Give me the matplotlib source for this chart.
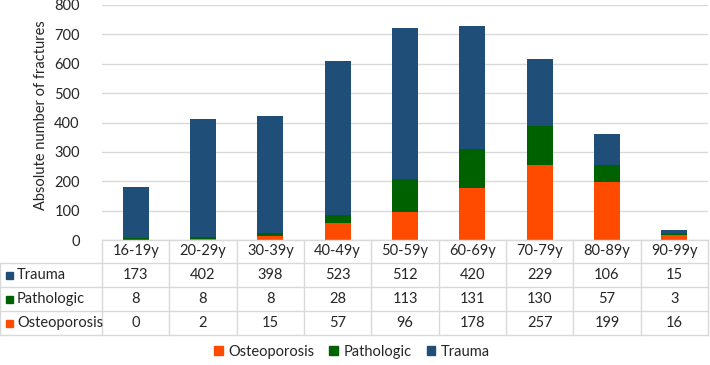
import matplotlib.pyplot as plt
from matplotlib.patches import Patch

plt.rcParams['font.family'] = ['Lato', 'DejaVu Sans']

age_groups = ["16-19y", "20-29y", "30-39y", "40-49y", "50-59y",
              "60-69y", "70-79y", "80-89y", "90-99y"]
osteoporosis = [0, 2, 15, 57, 96, 178, 257, 199, 16]
pathologic = [8, 8, 8, 28, 113, 131, 130, 57, 3]
trauma = [173, 402, 398, 523, 512, 420, 229, 106, 15]

c_osteo = "#FF4B00"
c_patho = "#006100"
c_trauma = "#1F4E79"
grid_c = "#D9D9D9"
txt_c = "#262626"

W, H = 710, 365
fig = plt.figure(figsize=(W / 100, H / 100), dpi=100)

# plot area in pixels
x0, x1 = 102, 708
y_top, y_zero = 5, 240
ax = fig.add_axes([x0 / W, 1 - y_zero / H, (x1 - x0) / W, (y_zero - y_top) / H])

xs = range(len(age_groups))
bottom2 = [a + b for a, b in zip(osteoporosis, pathologic)]
ax.bar(xs, osteoporosis, width=0.39, color=c_osteo)
ax.bar(xs, pathologic, width=0.39, bottom=osteoporosis, color=c_patho)
ax.bar(xs, trauma, width=0.39, bottom=bottom2, color=c_trauma)

ax.set_xlim(-0.5, len(age_groups) - 0.5)
ax.set_ylim(0, 800)
ax.set_yticks(range(0, 801, 100))
ax.yaxis.grid(True, color=grid_c, linewidth=1)
ax.set_axisbelow(True)
ax.set_xticks([])
for s in ax.spines.values():
    s.set_visible(False)
ax.tick_params(axis='y', length=0, labelsize=10.5, labelcolor=txt_c, pad=16)
ax.set_ylabel("Absolute number of fractures", fontsize=10.5, color=txt_c)
ax.yaxis.set_label_coords(-0.089, 0.53)

# data table below the bars
tab = fig.add_axes([0, 0, 1, 1])
tab.set_xlim(0, W)
tab.set_ylim(H, 0)
tab.axis('off')

rows = [("Trauma", trauma, c_trauma),
        ("Pathologic", pathologic, c_patho),
        ("Osteoporosis", osteoporosis, c_osteo)]
row_y = [240, 263, 287, 311, 335]
col_w = (x1 - x0) / len(age_groups)
col_x = [x0 + i * col_w for i in range(len(age_groups) + 1)]

# horizontal lines
tab.plot([x0, x1], [row_y[0], row_y[0]], color=grid_c, lw=1)
for y in row_y[1:]:
    tab.plot([0, x1], [y, y], color=grid_c, lw=1)
# vertical lines
for x in col_x:
    tab.plot([x, x], [row_y[0], row_y[-1]], color=grid_c, lw=1)
tab.plot([0, 0], [row_y[1], row_y[-1]], color=grid_c, lw=1)

for i, lab in enumerate(age_groups):
    tab.text(col_x[i] + col_w / 2, (row_y[0] + row_y[1]) / 2, lab,
             ha='center', va='center', fontsize=10.5, color=txt_c)

for r, (name, vals, col) in enumerate(rows):
    yc = (row_y[r + 1] + row_y[r + 2]) / 2
    tab.add_patch(plt.Rectangle((6, yc - 3.5), 7, 7, color=col))
    tab.text(17, yc, name, ha='left', va='center', fontsize=10.5, color=txt_c)
    for i, v in enumerate(vals):
        tab.text(col_x[i] + col_w / 2, yc, str(v),
                 ha='center', va='center', fontsize=10.5, color=txt_c)

handles = [Patch(color=c_osteo, label="Osteoporosis"),
           Patch(color=c_patho, label="Pathologic"),
           Patch(color=c_trauma, label="Trauma")]
fig.legend(handles=handles, loc='center', bbox_to_anchor=(0.496, 1 - 352 / H),
           ncol=3, frameon=False, fontsize=10.5, handlelength=0.6, handleheight=0.6,
           handletextpad=0.4, columnspacing=1.0, labelcolor=txt_c)

fig.savefig("out.png", dpi=100)
